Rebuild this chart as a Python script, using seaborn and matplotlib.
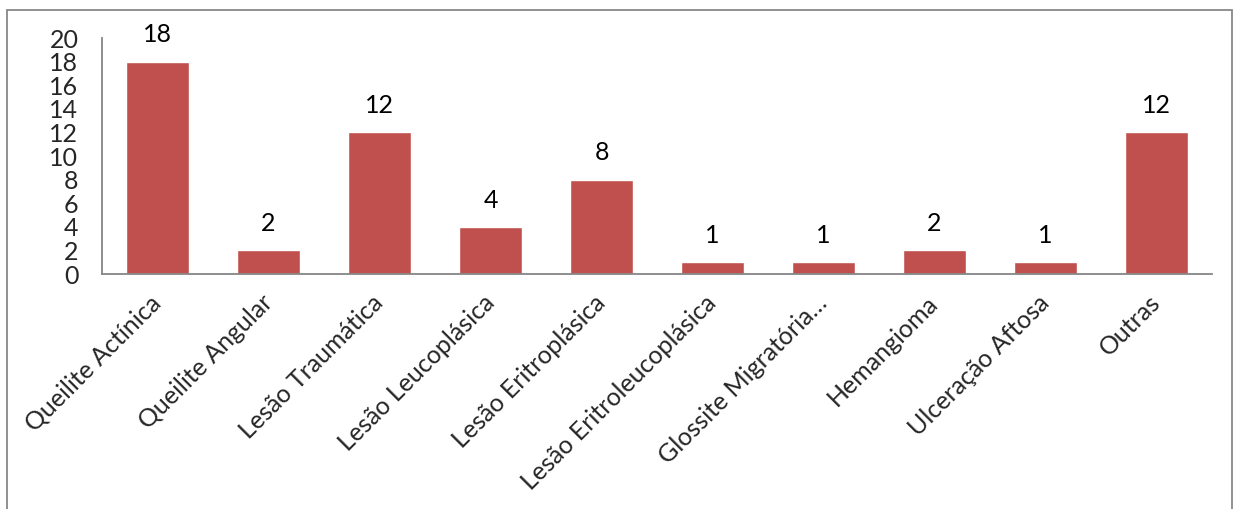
import matplotlib
matplotlib.use("Agg")
import matplotlib.pyplot as plt
import seaborn as sns
import pandas as pd
from matplotlib.patches import Rectangle

categories = ["Queilite Actínica", "Queilite Angular", "Lesão Traumática", "Lesão Leucoplásica",
              "Lesão Eritroplásica", "Lesão Eritroleucoplásica", "Glossite Migratória…",
              "Hemangioma", "Ulceração Aftosa", "Outras"]
values = [18, 2, 12, 4, 8, 1, 1, 2, 1, 12]
yticks = [0, 2, 4, 6, 8, 10, 12, 14, 16, 18, 20]

sns.set_theme(style="white")
plt.rcParams['font.family'] = ['Lato', 'DejaVu Sans']

FS = 18

fig = plt.figure(figsize=(12.37, 5.09), dpi=100)
ax = fig.add_axes([102/1237, 1 - 274/509, (1212 - 102)/1237, (274 - 38)/509])

df = pd.DataFrame({"cat": categories, "val": values})
sns.barplot(data=df, x="cat", y="val", color="#C0504D", saturation=1, width=0.56, ax=ax)

ax.set_ylim(0, 20)
ax.set_xlim(-0.5, len(categories) - 0.5)
ax.set_yticks(yticks)
ax.set_yticklabels([str(t) for t in yticks], fontsize=FS)
ax.tick_params(axis='y', length=0, pad=17)
ax.tick_params(axis='x', length=0, pad=18)
ax.set_xlabel("")
ax.set_ylabel("")
ax.set_xticks(range(len(categories)))
ax.set_xticklabels(categories, rotation=45, ha='right', va='center', rotation_mode='anchor', fontsize=FS)

for s in ['top', 'right']:
    ax.spines[s].set_visible(False)
for s in ['left', 'bottom']:
    ax.spines[s].set_color('#868686')
    ax.spines[s].set_linewidth(1.3)

for i, v in enumerate(values):
    ax.annotate(str(v), (i, v), xytext=(0, 11), textcoords='offset points',
                ha='center', va='bottom', fontsize=FS, color='black')

# outer chart border (bottom cut off)
fig.patches.append(Rectangle((7/1237, -0.2), (1232 - 7)/1237, 1.2 - 10/509,
                             transform=fig.transFigure, fill=False,
                             edgecolor='#888888', linewidth=1.3, figure=fig))

fig.savefig("out.png", dpi=100)
